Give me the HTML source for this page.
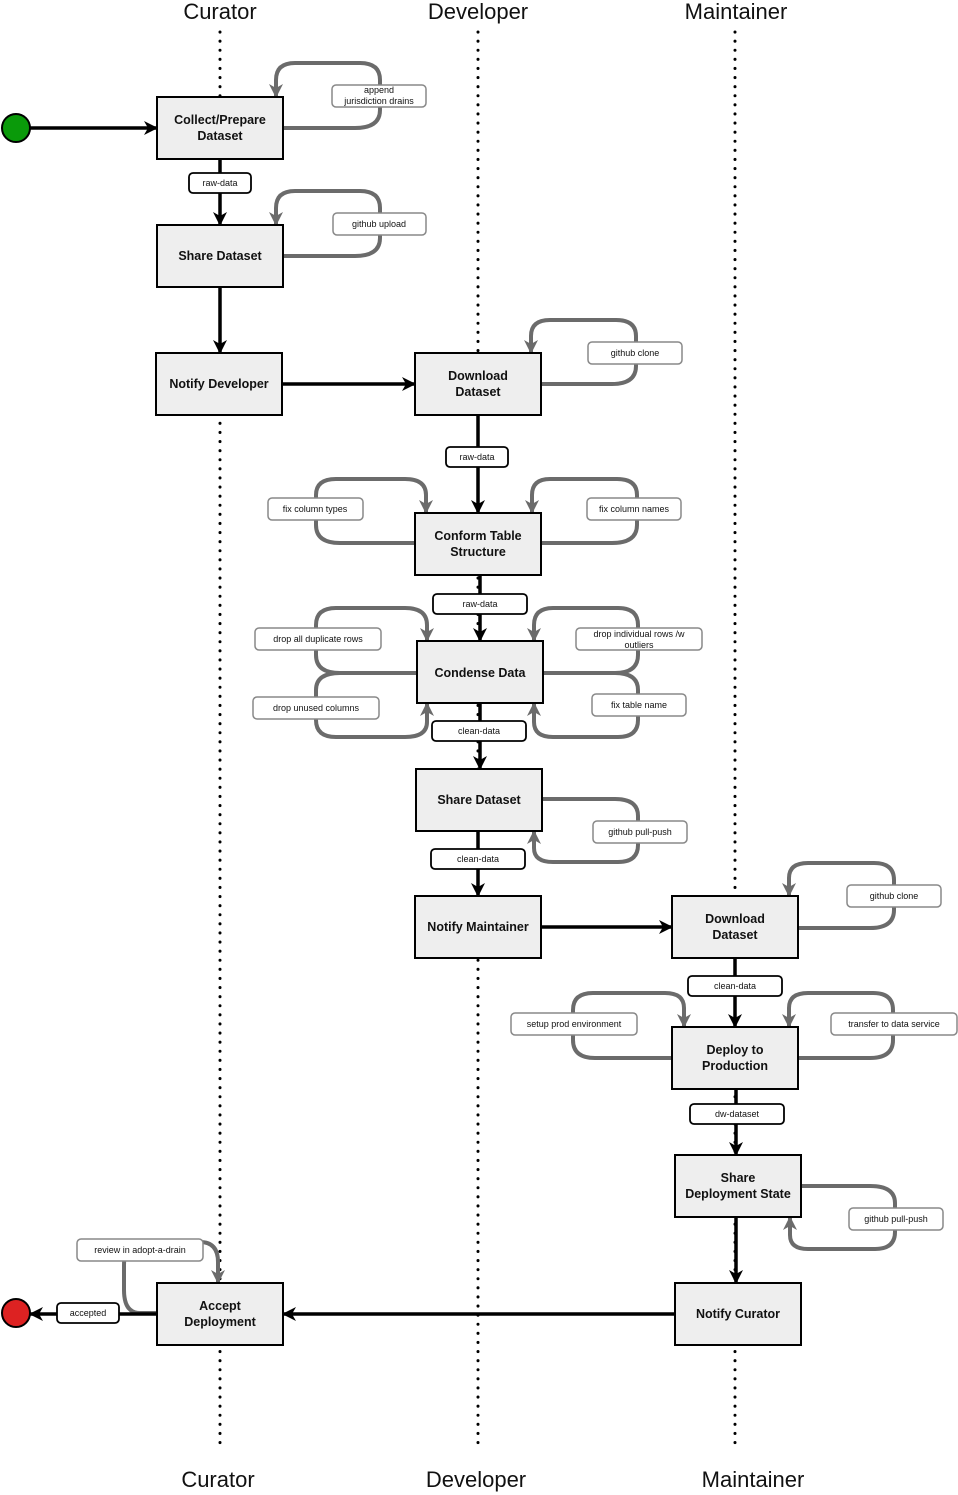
<!DOCTYPE html>
<html><head><meta charset="utf-8"><style>
html,body{margin:0;padding:0;background:#fff}
svg{display:block}
.bx{fill:#eeeeee;stroke:#000;stroke-width:2}
.bt{font-family:"Liberation Sans",sans-serif;font-weight:bold;font-size:12.5px;fill:#111;text-anchor:middle}
.lb{fill:#fff;stroke:#000;stroke-width:1.8}
.lg{fill:#fff;stroke:#888;stroke-width:1.5}
.lt{font-family:"Liberation Sans",sans-serif;font-size:9px;fill:#111;text-anchor:middle}
.ln{font-family:"Liberation Sans",sans-serif;font-size:22px;fill:#111;text-anchor:middle}
.k{stroke:#000;stroke-width:3.5;fill:none;marker-end:url(#ak)}
.g{stroke:#6b6b6b;stroke-width:4;fill:none;marker-end:url(#ag)}
.d{stroke:#000;stroke-width:3;stroke-dasharray:0.1 9;stroke-linecap:round;fill:none}
</style></head><body>
<svg width="958" height="1495" viewBox="0 0 958 1495" xmlns="http://www.w3.org/2000/svg">
<defs>
<marker id="ak" markerUnits="userSpaceOnUse" markerWidth="16" markerHeight="16" refX="13" refY="8" orient="auto"><path d="M0,1 L14,8 L0,15 L4,8 Z" fill="#000"/></marker>
<marker id="ag" markerUnits="userSpaceOnUse" markerWidth="16" markerHeight="16" refX="13" refY="8" orient="auto"><path d="M0,1 L14,8 L0,15 L4,8 Z" fill="#6b6b6b"/></marker>
</defs>
<text class="ln" x="220" y="19">Curator</text>
<text class="ln" x="478" y="19">Developer</text>
<text class="ln" x="736" y="19">Maintainer</text>
<text class="ln" x="218" y="1487">Curator</text>
<text class="ln" x="476" y="1487">Developer</text>
<text class="ln" x="753" y="1487">Maintainer</text>
<path class="d" d="M220,32 V1450 M478,32 V1450 M735,32 V1450"/>

<!-- gray loops -->
<path class="g" d="M283,128 H355 Q380,128 380,110 V80 Q380,63 360,63 H295 Q276,63 276,80 V97"/>
<path class="g" d="M283,256 H355 Q380,256 380,238 V208 Q380,191 360,191 H295 Q276,191 276,208 V225"/>
<path class="g" d="M541,384 H612 Q636,384 636,366 V336 Q636,320 616,320 H550 Q531,320 531,336 V353"/>
<path class="g" d="M541,543 H612 Q637,543 637,525 V495 Q637,479 617,479 H550 Q532,479 532,495 V513"/>
<path class="g" d="M415,543 H340 Q316,543 316,525 V495 Q316,479 336,479 H405 Q426,479 426,495 V513"/>
<path class="g" d="M417,673 H340 Q316,673 316,655 V625 Q316,608 336,608 H405 Q427,608 427,625 V641"/>
<path class="g" d="M417,673 H340 Q316,673 316,690 V720 Q316,737 336,737 H405 Q427,737 427,722 V703"/>
<path class="g" d="M543,673 H615 Q638,673 638,655 V625 Q638,608 618,608 H553 Q534,608 534,625 V641"/>
<path class="g" d="M543,673 H615 Q638,673 638,690 V720 Q638,737 618,737 H553 Q534,737 534,722 V703"/>
<path class="g" d="M542,799 H615 Q638,799 638,816 V845 Q638,862 618,862 H553 Q534,862 534,848 V831"/>
<path class="g" d="M798,928 H870 Q894,928 894,910 V880 Q894,863 874,863 H808 Q789,863 789,878 V896"/>
<path class="g" d="M672,1058 H595 Q573,1058 573,1040 V1010 Q573,993 593,993 H665 Q684,993 684,1008 V1027"/>
<path class="g" d="M798,1058 H870 Q893,1058 893,1040 V1010 Q893,993 873,993 H808 Q789,993 789,1008 V1027"/>
<path class="g" d="M801,1186 H870 Q895,1186 895,1203 V1232 Q895,1249 875,1249 H808 Q790,1249 790,1235 V1217"/>
<path class="g" d="M157,1313 H140 Q124,1313 124,1290 V1265 Q124,1242 145,1242 H200 Q218,1242 218,1262 V1283"/>

<!-- black arrows -->
<path class="k" d="M30,128 H157"/>
<path class="k" d="M220,159 V225"/>
<path class="k" d="M220,287 V353"/>
<path class="k" d="M282,384 H415"/>
<path class="k" d="M478,415 V513"/>
<path class="k" d="M480,575 V641"/>
<path class="k" d="M480,703 V769"/>
<path class="k" d="M478,831 V896"/>
<path class="k" d="M541,927 H672"/>
<path class="k" d="M735,958 V1027"/>
<path class="k" d="M736,1089 V1155"/>
<path class="k" d="M736,1217 V1283"/>
<path class="k" d="M675,1314 H283"/>
<path class="k" d="M157,1314 H30"/>

<circle cx="16" cy="128" r="14" fill="#0a9a0a" stroke="#000" stroke-width="2"/>
<circle cx="16" cy="1313" r="14" fill="#dd2222" stroke="#000" stroke-width="2"/>

<!-- boxes -->
<rect class="bx" x="157" y="97" width="126" height="62"/><text class="bt" x="220" y="124">Collect/Prepare</text><text class="bt" x="220" y="140">Dataset</text>
<rect class="bx" x="157" y="225" width="126" height="62"/><text class="bt" x="220" y="260">Share Dataset</text>
<rect class="bx" x="156" y="353" width="126" height="62"/><text class="bt" x="219" y="388">Notify Developer</text>
<rect class="bx" x="415" y="353" width="126" height="62"/><text class="bt" x="478" y="380">Download</text><text class="bt" x="478" y="396">Dataset</text>
<rect class="bx" x="415" y="513" width="126" height="62"/><text class="bt" x="478" y="540">Conform Table</text><text class="bt" x="478" y="556">Structure</text>
<rect class="bx" x="417" y="641" width="126" height="62"/><text class="bt" x="480" y="677">Condense Data</text>
<rect class="bx" x="416" y="769" width="126" height="62"/><text class="bt" x="479" y="804">Share Dataset</text>
<rect class="bx" x="415" y="896" width="126" height="62"/><text class="bt" x="478" y="931">Notify Maintainer</text>
<rect class="bx" x="672" y="896" width="126" height="62"/><text class="bt" x="735" y="923">Download</text><text class="bt" x="735" y="939">Dataset</text>
<rect class="bx" x="672" y="1027" width="126" height="62"/><text class="bt" x="735" y="1054">Deploy to</text><text class="bt" x="735" y="1070">Production</text>
<rect class="bx" x="675" y="1155" width="126" height="62"/><text class="bt" x="738" y="1182">Share</text><text class="bt" x="738" y="1198">Deployment State</text>
<rect class="bx" x="675" y="1283" width="126" height="62"/><text class="bt" x="738" y="1318">Notify Curator</text>
<rect class="bx" x="157" y="1283" width="126" height="62"/><text class="bt" x="220" y="1310">Accept</text><text class="bt" x="220" y="1326">Deployment</text>

<!-- black labels -->
<rect class="lb" x="189" y="173" width="62" height="20" rx="4"/><text class="lt" x="220" y="186">raw-data</text>
<rect class="lb" x="446" y="447" width="62" height="20" rx="4"/><text class="lt" x="477" y="460">raw-data</text>
<rect class="lb" x="433" y="594" width="94" height="20" rx="4"/><text class="lt" x="480" y="607">raw-data</text>
<rect class="lb" x="432" y="721" width="94" height="20" rx="4"/><text class="lt" x="479" y="734">clean-data</text>
<rect class="lb" x="431" y="849" width="94" height="20" rx="4"/><text class="lt" x="478" y="862">clean-data</text>
<rect class="lb" x="688" y="976" width="94" height="20" rx="4"/><text class="lt" x="735" y="989">clean-data</text>
<rect class="lb" x="690" y="1104" width="94" height="20" rx="4"/><text class="lt" x="737" y="1117">dw-dataset</text>
<rect class="lb" x="57" y="1303" width="62" height="20" rx="4"/><text class="lt" x="88" y="1316">accepted</text>

<!-- gray labels -->
<rect class="lg" x="332" y="85" width="94" height="22" rx="4"/><text class="lt" x="379" y="93">append</text><text class="lt" x="379" y="104">jurisdiction drains</text>
<rect class="lg" x="333" y="213" width="93" height="22" rx="4"/><text class="lt" x="379" y="227">github upload</text>
<rect class="lg" x="588" y="342" width="94" height="22" rx="4"/><text class="lt" x="635" y="356">github clone</text>
<rect class="lg" x="268" y="498" width="95" height="22" rx="4"/><text class="lt" x="315" y="512">fix column types</text>
<rect class="lg" x="587" y="498" width="94" height="22" rx="4"/><text class="lt" x="634" y="512">fix column names</text>
<rect class="lg" x="255" y="628" width="126" height="22" rx="4"/><text class="lt" x="318" y="642">drop all duplicate rows</text>
<rect class="lg" x="576" y="628" width="126" height="22" rx="4"/><text class="lt" x="639" y="637">drop individual rows /w</text><text class="lt" x="639" y="648">outliers</text>
<rect class="lg" x="253" y="697" width="126" height="22" rx="4"/><text class="lt" x="316" y="711">drop unused columns</text>
<rect class="lg" x="592" y="694" width="94" height="22" rx="4"/><text class="lt" x="639" y="708">fix table name</text>
<rect class="lg" x="593" y="821" width="94" height="22" rx="4"/><text class="lt" x="640" y="835">github pull-push</text>
<rect class="lg" x="847" y="885" width="94" height="22" rx="4"/><text class="lt" x="894" y="899">github clone</text>
<rect class="lg" x="511" y="1013" width="126" height="22" rx="4"/><text class="lt" x="574" y="1027">setup prod environment</text>
<rect class="lg" x="831" y="1013" width="126" height="22" rx="4"/><text class="lt" x="894" y="1027">transfer to data service</text>
<rect class="lg" x="849" y="1208" width="94" height="22" rx="4"/><text class="lt" x="896" y="1222">github pull-push</text>
<rect class="lg" x="77" y="1239" width="126" height="22" rx="4"/><text class="lt" x="140" y="1253">review in adopt-a-drain</text>
</svg>
</body></html>
